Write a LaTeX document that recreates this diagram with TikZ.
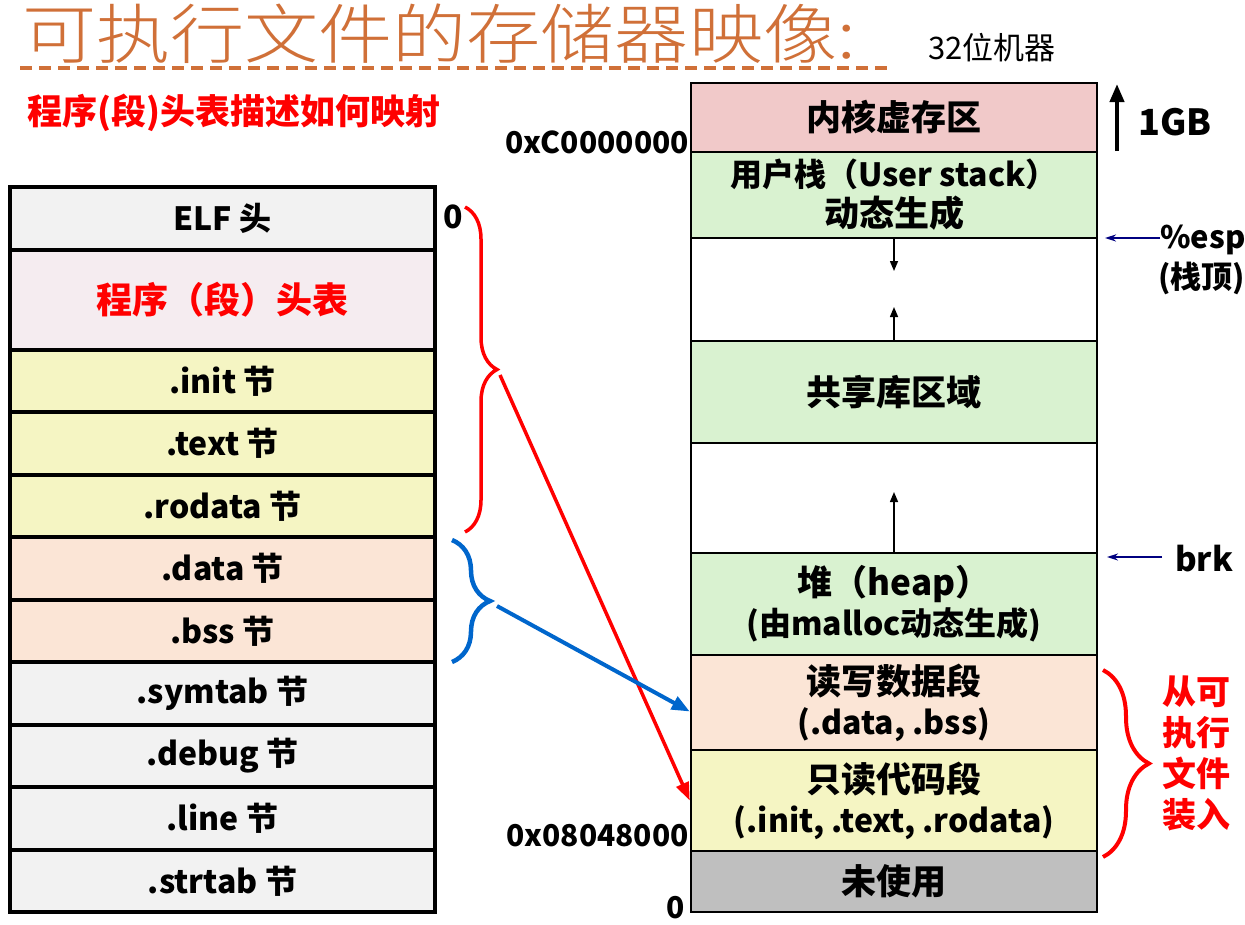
\documentclass[tikz,border=0pt]{standalone}
\usepackage{fontspec}
\setmainfont{Noto Sans CJK SC}
\newfontfamily\titlefont{Noto Sans CJK SC Light}
\usetikzlibrary{arrows.meta,decorations.pathreplacing,calc}
\definecolor{lgray}{RGB}{242,242,242}
\definecolor{lpink}{RGB}{245,236,240}
\definecolor{lyellow}{RGB}{245,245,195}
\definecolor{lpeach}{RGB}{251,229,214}
\definecolor{kpink}{RGB}{241,201,201}
\definecolor{lgreen}{RGB}{217,242,208}
\definecolor{dgray}{RGB}{191,191,191}
\definecolor{tred}{RGB}{255,0,0}
\definecolor{tblue}{RGB}{0,102,204}
\definecolor{tnavy}{RGB}{0,0,128}
\definecolor{torange}{RGB}{208,112,56}
\newcommand{\bigcj}{\fontsize{35}{40}\selectfont}
\newcommand{\midlat}{\fontsize{32}{40}\selectfont}
\begin{document}
\begin{tikzpicture}[x=1pt,y=-1pt,
  lrow/.style={draw=black, line width=3.5pt, minimum width=425pt, inner sep=0pt,
    font=\bfseries\fontsize{32}{40}\selectfont, align=center},
  rrow/.style={draw=black, line width=2.5pt, minimum width=406pt, inner sep=0pt,
    font=\bfseries\fontsize{32}{40}\selectfont, align=center},
  lbl/.style={inner sep=0pt, font=\bfseries\fontsize{30}{34}\selectfont},
  smallarr/.style={line width=1.5pt, -{Triangle[length=10pt,width=8pt]}},
  ptr/.style={tnavy, line width=1.5pt, -{Stealth[length=11pt,width=7pt]}}
]
\useasboundingbox (0,0) rectangle (1245,924);

% title
\node[anchor=base west, inner sep=0pt, text=torange, font=\titlefont\fontsize{65}{70}\selectfont] (title) at (22,58) {\scalebox{1.14}[1]{可执行文件的存储器映像:}};
\draw[torange, line width=4pt, dash pattern=on 12pt off 7pt] (20,68) -- (893,68);
\node[anchor=base west, inner sep=0pt, font=\fontsize{31}{34}\selectfont] (bits) at (928,59) {32位机器};
\node[anchor=west, inner sep=0pt, text=tred, font=\bfseries\fontsize{35}{40}\selectfont] (desc) at (27,113) {程序(段)头表描述如何映射};

% left column
\node[lrow, fill=lgray,   minimum height=63pt]  (elf)  at (222.5,218.5) {ELF 头};
\node[lrow, fill=lpink,   minimum height=100pt, text=tred, font=\bfseries\fontsize{36}{40}\selectfont] (pht) at (222.5,300) {程序（段）头表};
\node[lrow, fill=lyellow, minimum height=62pt]  (init) at (222.5,381) {.init 节};
\node[lrow, fill=lyellow, minimum height=63pt]  (text) at (222.5,443.5) {.text 节};
\node[lrow, fill=lyellow, minimum height=62pt]  (rod)  at (222.5,506) {.rodata 节};
\node[lrow, fill=lpeach,  minimum height=63pt]  (data) at (222.5,568.5) {.data 节};
\node[lrow, fill=lpeach,  minimum height=62pt]  (bss)  at (222.5,631) {.bss 节};
\node[lrow, fill=lgray,   minimum height=63pt]  (sym)  at (222.5,693.5) {.symtab 节};
\node[lrow, fill=lgray,   minimum height=62pt]  (dbg)  at (222.5,756) {.debug 节};
\node[lrow, fill=lgray,   minimum height=63pt]  (line) at (222.5,818.5) {.line 节};
\node[lrow, fill=lgray,   minimum height=62pt]  (str)  at (222.5,881) {.strtab 节};
\node[lbl, anchor=center, font=\bfseries\fontsize{32}{34}\selectfont] (zero1) at (453,217) {0};

% right column
\node[rrow, fill=kpink,  minimum height=69pt]  (kern) at (894,117.5) {\bigcj 内核虚存区};
\node[rrow, fill=lgreen, minimum height=86pt]  (stk)  at (894,195) {\midlat 用户栈（User stack）\\\bigcj 动态生成};
\node[rrow, fill=white,  minimum height=103pt] (gap1) at (894,289.5) {};
\node[rrow, fill=lgreen, minimum height=102pt] (shl)  at (894,392) {\bigcj 共享库区域};
\node[rrow, fill=white,  minimum height=110pt] (gap2) at (894,498) {};
\node[rrow, fill=lgreen, minimum height=102pt] (heap) at (894,604) {\bigcj 堆（heap）\\\midlat (由malloc动态生成)};
\node[rrow, fill=lpeach, minimum height=95pt]  (rw)   at (894,702.5) {\bigcj 读写数据段\\\midlat (.data, .bss)};
\node[rrow, fill=lyellow,minimum height=101pt] (ro)   at (894,800.5) {\bigcj 只读代码段\\\midlat (.init, .text, .rodata)};
\node[rrow, fill=dgray,  minimum height=61pt]  (unused) at (894,881.5) {\bigcj 未使用};

\node[lbl, anchor=east] (kaddr) at (689,142) {0xC0000000};
\node[lbl, anchor=east] (caddr) at (689,836) {0x08048000};
\node[lbl, anchor=center] (zero2) at (676,908) {0};

% growth arrows
\coordinate (stkend) at (894,271);
\coordinate (shlend) at (894,307);
\coordinate (heapend) at (894,492);
\draw[smallarr] (stk.south) -- (stkend);
\draw[smallarr] (shl.north) -- (shlend);
\draw[smallarr] (heap.north) -- (heapend);

% right annotations
\coordinate (gbtop) at (1117,84);
\coordinate (gbbot) at (1117,151);
\draw[line width=4pt, -{Triangle[length=18pt,width=14pt]}] (gbbot) -- (gbtop);
\node[lbl, anchor=west, font=\bfseries\fontsize{36}{40}\selectfont] (gb) at (1138,122) {1GB};

\node[lbl, anchor=west, font=\bfseries\fontsize{31}{36}\selectfont] (esp) at (1160,240) {\%esp};
\node[lbl, anchor=west, font=\bfseries\fontsize{31}{36}\selectfont] (espc) at (1158,278) {(栈顶)};
\coordinate (esptip) at (1105,238);
\draw[ptr] (esp.west) ++(0,-2) -- (esptip);

\node[lbl, anchor=west, font=\bfseries\fontsize{33}{36}\selectfont] (brk) at (1175,559) {brk};
\coordinate (brktail) at (1162,557);
\coordinate (brktip) at (1107,557);
\draw[ptr] (brktail) -- (brktip);

\draw[tred, line width=4pt, decorate, decoration={brace, amplitude=46pt}] (1103,670) -- (1103,857);
\node[inner sep=0pt, text=tred, align=center, font=\bfseries\fontsize{34}{41}\selectfont] (load) at (1196,753) {从可\\执行\\文件\\装入};

% braces and mapping arrows
\draw[tred, line width=3.5pt, decorate, decoration={brace, amplitude=32pt}] (465,207) -- (465,532);
\draw[tblue, line width=4.5pt, decorate, decoration={brace, amplitude=38pt}] (452,540) -- (452,662);
\coordinate (rtip) at (500,375);
\coordinate (btip) at (497,606);
\draw[tred, line width=3.5pt, -{Triangle[length=18pt,width=13pt]}] (rtip) -- (ro.west);
\draw[tblue, line width=4pt, -{Triangle[length=18pt,width=14pt]}] (btip) -- ([yshift=-9pt]rw.west);
\end{tikzpicture}
\end{document}
